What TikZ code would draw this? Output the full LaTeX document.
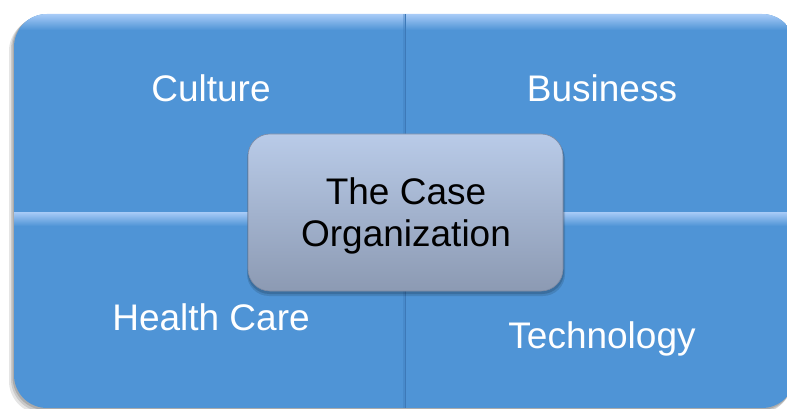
\documentclass[tikz,border=0pt]{standalone}
\usepackage{fontspec}
\setmainfont{Liberation Sans}
\definecolor{quadblue}{HTML}{4F94D6}
\definecolor{quadhi}{HTML}{A8CBF7}
\definecolor{divline}{HTML}{3D79B8}
\definecolor{boxtop}{HTML}{B9CBE8}
\definecolor{boxbot}{HTML}{8C9AB3}
\definecolor{boxedge}{HTML}{7D8AA3}
\tikzset{
  quadlabel/.style={text=white, font=\fontsize{37}{42}\selectfont, inner sep=0pt, anchor=base},
  quadfill/.style={fill=quadblue, draw=none},
  quadhighlight/.style={top color=quadhi, bottom color=quadblue, draw=none},
  centerbox/.style={rounded corners=22pt, top color=boxtop, bottom color=boxbot, draw=boxedge, line width=0.6pt},
  centertext/.style={text=black, font=\fontsize{37}{42}\selectfont, align=center, inner sep=0pt},
}
\begin{document}
\begin{tikzpicture}[x=1pt,y=-1pt]
\useasboundingbox (0,0) rectangle (787,409);
\fill[white] (0,0) rectangle (787,409);
% outer shadow
\fill[black, opacity=0.10, rounded corners=33pt] (9,18) rectangle (791,414);
\fill[black, opacity=0.12, rounded corners=33pt] (11,16) rectangle (793,412);
\fill[black, opacity=0.15, rounded corners=33pt] (12.5,15) rectangle (794,410);
% quadrants clipped to the outer rounded shape
\begin{scope}
\clip[rounded corners=33pt] (14,14) rectangle (795,408);
\fill[quadfill] (14,14) rectangle (795,408);
\shade[quadhighlight] (14,14) rectangle (795,30);
\shade[quadhighlight] (14,212) rectangle (795,226);
\fill[divline, opacity=0.35] (402.5,14) rectangle (405,408);
\fill[divline] (405,14) rectangle (406.4,408);
\end{scope}
\coordinate (tl) at (211,102);
\coordinate (tr) at (602,102);
\coordinate (bl) at (211,330);
\coordinate (br) at (602,348);
\node[quadlabel] (culture) at (tl) {Culture};
\node[quadlabel] (business) at (tr) {Business};
\node[quadlabel] (health) at (bl) {Health Care};
\node[quadlabel] (tech) at (br) {Technology};
% center box shadow
\fill[black, opacity=0.12, rounded corners=22pt] (247,137) rectangle (565,296);
\fill[black, opacity=0.15, rounded corners=22pt] (247.5,135.5) rectangle (564,294);
\path[centerbox] (248,134) rectangle (563,291);
\node[minimum width=315pt, minimum height=157pt, inner sep=0pt] (case) at (405.5,212.5) {};
\node[centertext] (casetext) at (406,216.4) {The Case\\Organization};
\end{tikzpicture}
\end{document}
